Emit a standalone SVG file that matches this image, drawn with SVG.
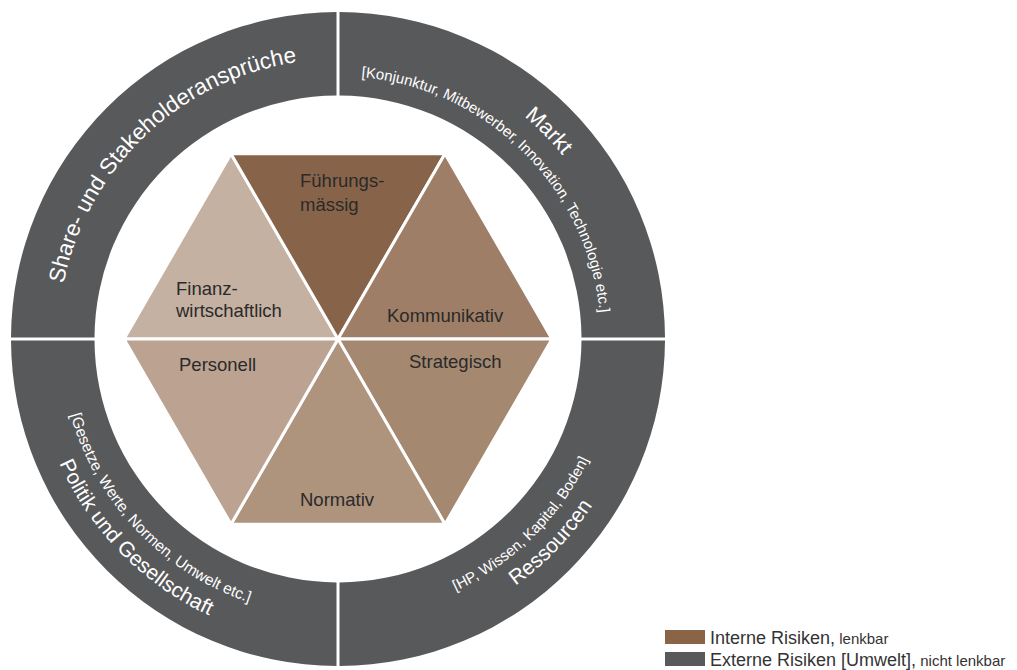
<svg xmlns="http://www.w3.org/2000/svg" xmlns:xlink="http://www.w3.org/1999/xlink" width="1017" height="670" viewBox="0 0 1017 670">
<style>
.ring{fill:#58595b}
.tri{stroke:#ffffff;stroke-width:3;stroke-linejoin:miter}
.lbl{font-family:"Liberation Sans",Arial,Helvetica,sans-serif;font-size:18.5px;fill:#2a2a2a}
.rt{font-family:"Liberation Sans",Arial,Helvetica,sans-serif;fill:#ffffff}
.big{font-size:21px}
.sm{font-size:15px}
.leg{font-family:"Liberation Sans",Arial,Helvetica,sans-serif;font-size:18px;fill:#333333}
</style>
<defs>
<path id="pShare" d="M105.9,495.6 A280,280 0 0 1 502.6,112.5"/>
<path id="pMarktB" d="M187.1,123.6 A263,263 0 0 1 553.4,489.9"/>
<path id="pMarkt" d="M171.7,101.4 A290,290 0 0 1 575.6,505.3"/>
<path id="pPolB" d="M110.3,179.5 A278,278 0 0 0 497.5,566.7"/>
<path id="pPol" d="M88.1,164.1 A305,305 0 0 0 512.9,588.9"/>
<path id="pResB" d="M178.5,566.7 A278,278 0 0 0 565.7,179.5"/>
<path id="pRes" d="M163.6,588 A304,304 0 0 0 587,164.6"/>
</defs>
<rect width="1017" height="670" fill="#ffffff"/>

<g id="ring-share">
<path class="ring" d="M11,337.5 A327,327 0 0 1 336.5,12 L336.5,95.5 A243.5,243.5 0 0 0 94.5,337.5 Z"/>
<text class="rt" font-size="22.5"><textPath xlink:href="#pShare" href="#pShare" startOffset="50.3%" text-anchor="middle">Share- und Stakeholderansprüche</textPath></text>
</g>
<g id="ring-markt">
<path class="ring" d="M339.5,12 A327,327 0 0 1 665,337.5 L581.5,337.5 A243.5,243.5 0 0 0 339.5,95.5 Z"/>
<text class="rt" font-size="22"><textPath xlink:href="#pMarkt" href="#pMarkt" startOffset="50.2%" text-anchor="middle">Markt</textPath></text>
<text class="rt sm"><textPath xlink:href="#pMarktB" href="#pMarktB" startOffset="49.8%" text-anchor="middle">[Konjunktur, Mitbewerber, Innovation, Technologie etc.]</textPath></text>
</g>
<g id="ring-ressourcen">
<path class="ring" d="M665,340.5 A327,327 0 0 1 339.5,666 L339.5,582.5 A243.5,243.5 0 0 0 581.5,340.5 Z"/>
<text class="rt big"><textPath xlink:href="#pRes" href="#pRes" startOffset="50.8%" text-anchor="middle">Ressourcen</textPath></text>
<text class="rt sm"><textPath xlink:href="#pResB" href="#pResB" startOffset="49.8%" text-anchor="middle">[HP, Wissen, Kapital, Boden]</textPath></text>
</g>
<g id="ring-politik">
<path class="ring" d="M336.5,666 A327,327 0 0 1 11,340.5 L94.5,340.5 A243.5,243.5 0 0 0 336.5,582.5 Z"/>
<text class="rt big"><textPath xlink:href="#pPol" href="#pPol" startOffset="49.7%" text-anchor="middle">Politik und Gesellschaft</textPath></text>
<text class="rt" font-size="15.5"><textPath xlink:href="#pPolB" href="#pPolB" startOffset="49.1%" text-anchor="middle">[Gesetze, Werte, Normen, Umwelt etc.]</textPath></text>
</g>

<g id="finanz">
<polygon class="tri" fill="#c4b1a1" points="124,339 231,153.7 338,339"/>
<text class="lbl" x="176" y="295">Finanz-</text>
<text class="lbl" x="176" y="316.5">wirtschaftlich</text>
</g>
<g id="fuehrung">
<polygon class="tri" fill="#876449" points="231,153.7 445,153.7 338,339"/>
<text class="lbl" x="300" y="187">Führungs-</text>
<text class="lbl" x="300" y="210.5">mässig</text>
</g>
<g id="kommunikativ">
<polygon class="tri" fill="#9e7e66" points="338,339 445,153.7 552,339"/>
<text class="lbl" x="387" y="321.5">Kommunikativ</text>
</g>
<g id="strategisch">
<polygon class="tri" fill="#a48870" points="338,339 552,339 445,524.3"/>
<text class="lbl" x="409" y="367.5">Strategisch</text>
</g>
<g id="normativ">
<polygon class="tri" fill="#ae937d" points="338,339 445,524.3 231,524.3"/>
<text class="lbl" x="300" y="506">Normativ</text>
</g>
<g id="personell">
<polygon class="tri" fill="#bca391" points="338,339 231,524.3 124,339"/>
<text class="lbl" x="179" y="371">Personell</text>
</g>

<g id="connectors"/>

<g id="legend">
<rect x="665" y="630" width="40" height="14" fill="#8a6446"/>
<text class="leg" x="710" y="644">Interne Risiken,<tspan font-size="15"> lenkbar</tspan></text>
<rect x="665" y="652" width="40" height="14" fill="#58595b"/>
<text class="leg" x="710" y="666">Externe Risiken [Umwelt],<tspan font-size="15"> nicht lenkbar</tspan></text>
</g>
</svg>
